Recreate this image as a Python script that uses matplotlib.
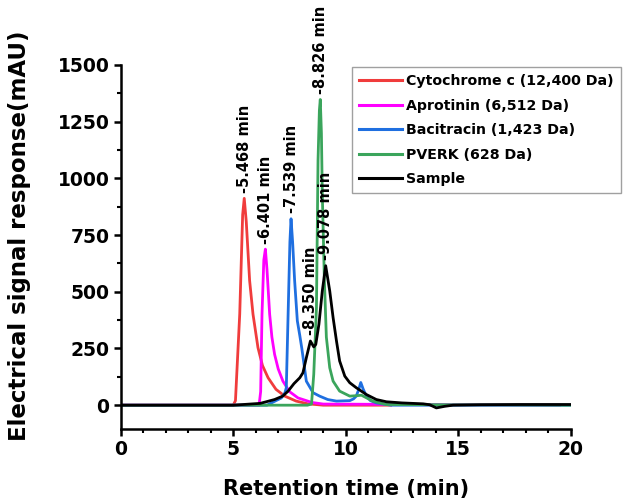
import matplotlib
matplotlib.use('Agg')
import matplotlib.pyplot as plt
from matplotlib.ticker import MultipleLocator

plt.rcParams['font.family'] = ['DejaVu Sans']
plt.rcParams['font.weight'] = 'bold'

# chromatogram traces (time in min, signal in mAU)
cyto_t = [0, 5.0, 5.1, 5.29, 5.42, 5.49, 5.58, 5.73, 5.88, 6.10, 6.3, 6.55, 6.9, 7.29, 7.8, 8.32, 9.0, 12.0]
cyto_v = [0, 0, 20, 402, 840, 912, 810, 549, 401, 254, 175, 121, 70, 40, 18, 6, 0, 0]

apro_t = [0, 6.15, 6.22, 6.28, 6.36, 6.43, 6.5, 6.62, 6.72, 6.84, 7.0, 7.21, 7.5, 7.88, 8.5, 9.0, 19.5]
apro_v = [0, 0, 60, 401, 640, 688, 600, 401, 300, 224, 160, 106, 60, 32, 12, 5, 0]

baci_t = [0, 6.5, 6.7, 6.9, 7.14, 7.3, 7.36, 7.44, 7.52, 7.57, 7.64, 7.73, 7.85, 7.96, 8.05, 8.25, 8.55,
          8.84, 9.2, 9.59, 10.18, 10.35, 10.47, 10.58, 10.67, 10.78, 10.92, 11.1, 11.36, 12.0, 20.0]
baci_v = [0, 0, 10, 20, 32, 55, 77, 401, 720, 822, 720, 549, 372, 307, 250, 106, 55,
          40, 25, 18, 20, 28, 40, 70, 100, 70, 40, 20, 10, 0, 0]

pverk_t = [0, 8.3, 8.48, 8.58, 8.7, 8.77, 8.83, 8.87, 8.92, 8.96, 9.05, 9.14, 9.29, 9.44, 9.73,
           10.18, 10.5, 10.7, 11.2, 11.8, 20.0]
pverk_v = [0, 0, 5, 136, 430, 1080, 1300, 1348, 1200, 932, 560, 300, 165, 106, 62,
           40, 42, 44, 18, 3, 0]

sample_t = [0, 5.0, 6.2, 6.84, 7.2, 7.44, 7.7, 7.96, 8.1, 8.25, 8.43, 8.58, 8.67, 8.81, 8.96, 9.11,
            9.29, 9.44, 9.59, 9.73, 9.96, 10.18, 10.47, 10.92, 11.36, 11.81, 12.5, 13.44, 13.73, 14.03,
            14.4, 14.77, 16.0, 17.73, 20.0]
sample_v = [0, 0, 8, 25, 40, 62, 95, 121, 143, 209, 283, 257, 268, 357, 504, 615,
            504, 386, 283, 195, 128, 99, 77, 47, 25, 15, 10, 6, 2, -12,
            -5, 0, 2, 3, 3]

labels = ['Cytochrome c (12,400 Da)', 'Aprotinin (6,512 Da)', 'Bacitracin (1,423 Da)',
          'PVERK (628 Da)', 'Sample']
colors = ['#f03c3c', '#ff00ff', '#1f6fe0', '#3ba55c', 'black']

# peak annotations
peak_t = [5.49, 6.43, 7.57, 8.43, 8.87, 9.11]
peak_v = [912, 688, 822, 283, 1348, 615]
peak_txt = ['-5.468 min', '-6.401 min', '-7.539 min', '-8.350 min', '-8.826 min', '-9.078 min']

fig = plt.figure(figsize=(6.32, 5.0), dpi=100)
ax = fig.add_axes([0.191, 0.142, 0.712, 0.728])

series = [(cyto_t, cyto_v), (apro_t, apro_v), (baci_t, baci_v), (pverk_t, pverk_v), (sample_t, sample_v)]
for (t, v), lab, c in zip(series, labels, colors):
    ax.plot(t, v, color=c, lw=2.0, label=lab)

for x, y, s in zip(peak_t, peak_v, peak_txt):
    ax.annotate(s, (x, y), xytext=(0, 4), textcoords='offset points', rotation=90,
                ha='center', va='bottom', fontsize=10.5, fontweight='bold', annotation_clip=False)

ax.set_xlim(0, 20)
ax.set_ylim(-105, 1500)
ax.xaxis.set_major_locator(MultipleLocator(5))
ax.xaxis.set_minor_locator(MultipleLocator(1))
ax.yaxis.set_major_locator(MultipleLocator(250))
ax.yaxis.set_minor_locator(MultipleLocator(125))
for side in ['top', 'right']:
    ax.spines[side].set_visible(False)
for side in ['left', 'bottom']:
    ax.spines[side].set_linewidth(1.8)
ax.tick_params(which='major', direction='out', length=5, width=1.8, labelsize=13.5, pad=3)
ax.tick_params(which='minor', direction='out', length=3, width=1.5)
for lbl in ax.get_xticklabels() + ax.get_yticklabels():
    lbl.set_fontweight('bold')

ax.set_xlabel('Retention time (min)', fontsize=15, fontweight='bold', labelpad=14)
ax.set_ylabel('Electrical signal response(mAU)', fontsize=16.5, fontweight='bold')
ax.yaxis.set_label_coords(-0.2, 0.53)

leg = fig.legend(loc='upper left', bbox_to_anchor=(0.557, 0.866), bbox_transform=fig.transFigure,
                 fontsize=10.2, frameon=True, fancybox=False, handlelength=3.0, handletextpad=0.3,
                 labelspacing=0.74, borderpad=0.5, borderaxespad=0)
leg.get_frame().set_edgecolor('#888888')
leg.get_frame().set_linewidth(1.0)
for txt in leg.get_texts():
    txt.set_fontweight('bold')
for line in leg.get_lines():
    line.set_linewidth(2.2)

fig.savefig('out.png', dpi=100)
